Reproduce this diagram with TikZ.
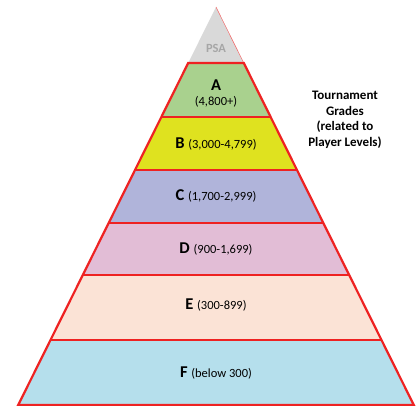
\documentclass[tikz,border=0pt]{standalone}
\usepackage{fontspec}
\setmainfont{Carlito}
\definecolor{redline}{HTML}{EE2222}
\definecolor{psagray}{HTML}{D9D9D9}
\definecolor{psatext}{HTML}{A6A6A6}
\definecolor{cA}{HTML}{A9D18E}
\definecolor{cB}{HTML}{DFE21F}
\definecolor{cC}{HTML}{B0B4DA}
\definecolor{cD}{HTML}{E2BDD6}
\definecolor{cE}{HTML}{FBE3D6}
\definecolor{cF}{HTML}{B5DFEC}
\tikzset{
  band/.style={draw=redline, line width=2.2pt, line join=miter},
  letterfont/.style={font=\fontsize{16.5}{18}\selectfont\bfseries},
  rangefont/.style={font=\fontsize{12.5}{14}\selectfont},
  lbl/.style={inner sep=0pt, anchor=center, text=black}
}
\newcommand{\gradelbl}[2]{\fontsize{16.5}{18}\selectfont\bfseries #1 \fontsize{12.5}{14}\selectfont\mdseries#2}
\begin{document}
\begin{tikzpicture}[x=1pt,y=-1pt]
\useasboundingbox (0,0) rectangle (418,406);
% PSA tip
\fill[psagray] (216,7) -- (243.8,63) -- (188.2,63) -- cycle;
\draw[redline!70, line width=0.5pt] (216,7) -- (243.8,63);
% bands
\path[fill=cA] (188.2,63) -- (243.8,63) -- (270.7,117) -- (161.3,117) -- cycle;
\path[fill=cB] (161.3,117) -- (270.7,117) -- (297.0,170) -- (135.0,170) -- cycle;
\path[fill=cC] (135.0,170) -- (297.0,170) -- (323.4,223) -- (108.6,223) -- cycle;
\path[fill=cD] (108.6,223) -- (323.4,223) -- (349.2,275) -- (82.8,275) -- cycle;
\path[fill=cE] (82.8,275) -- (349.2,275) -- (381.5,340) -- (50.5,340) -- cycle;
\path[fill=cF] (50.5,340) -- (381.5,340) -- (413.8,405) -- (18.2,405) -- cycle;
% outlines
\draw[band] (188.2,63) -- (243.8,63) -- (413.8,405) -- (18.2,405) -- cycle;
\draw[band] (161.3,117) -- (270.7,117);
\draw[band] (135.0,170) -- (297.0,170);
\draw[band] (108.6,223) -- (323.4,223);
\draw[band] (82.8,275) -- (349.2,275);
\draw[band] (50.5,340) -- (381.5,340);
% labels
\node[lbl, text=psatext, font=\fontsize{12.5}{14}\selectfont\bfseries] (psa) at (216,48) {PSA};
\node[lbl, letterfont] (a) at (216,85) {A};
\node[lbl, rangefont] (ar) at (216,102) {(4,800+)};
\node[lbl] (b) at (216,144) {\gradelbl{B}{(3,000-4,799)}};
\node[lbl] (c) at (216,196) {\gradelbl{C}{(1,700-2,999)}};
\node[lbl] (d) at (216,249) {\gradelbl{D}{(900-1,699)}};
\node[lbl] (e) at (216,305) {\gradelbl{E}{(300-899)}};
\node[lbl] (f) at (216,373) {\gradelbl{F}{(below 300)}};
\node[lbl, align=center, font=\fontsize{13}{15.5}\selectfont\bfseries] (title) at (345,120) {Tournament\\Grades\\(related to\\Player Levels)};
\end{tikzpicture}
\end{document}
